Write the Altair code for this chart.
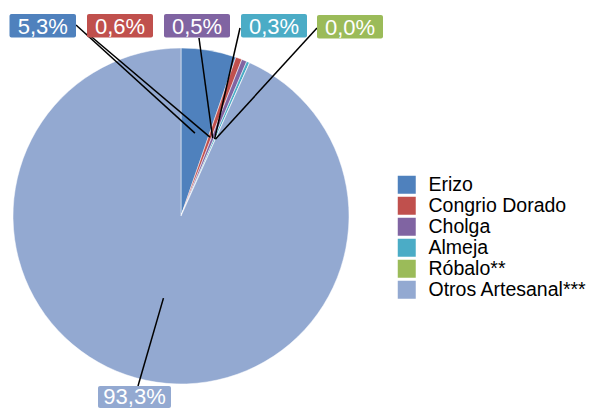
import math
import altair as alt
import pandas as pd

# ---- data ----
categories = ["Erizo", "Congrio Dorado", "Cholga", "Almeja", "Róbalo**", "Otros Artesanal***"]
values = [5.3, 0.6, 0.5, 0.3, 0.0, 93.3]
labels = ["5,3%", "0,6%", "0,5%", "0,3%", "0,0%", "93,3%"]
colors = ["#4F81BD", "#C0504D", "#8064A2", "#4BACC6", "#9BBB59", "#93A9D1"]

# ---- layout (page pixel coordinates) ----
OFF = 8
CX, CY, R = 181, 216, 168
box_left = [9.5, 87, 164, 241, 317, 98]
box_right = [76, 153, 230, 307, 383, 171]
box_top = [14, 14, 14, 14, 15, 386]
box_bottom = [37.5, 37.5, 37.5, 37.5, 38.5, 408]
anchor_x = [76, 87, 199, 240, 317, 138]
anchor_y = [25, 33, 38, 28, 28, 386]
text_dy = [1, 1, 1, 1, 1, 0]

total = sum(values)
rows = []
cum = 0.0
for i, (c, v, lab, col) in enumerate(zip(categories, values, labels, colors)):
    mid = (cum + v / 2) / total * 2 * math.pi
    cum += v
    rows.append(dict(
        category=c, value=v, label=lab, hex=col, order=i,
        ix=CX + 0.5 * R * math.sin(mid) - OFF,
        iy=CY - 0.5 * R * math.cos(mid) - OFF,
        ax=anchor_x[i] - OFF, ay=anchor_y[i] - OFF,
        bl=box_left[i] - OFF, br=box_right[i] - OFF,
        bt=box_top[i] - OFF, bb=box_bottom[i] - OFF,
        tx=(box_left[i] + box_right[i]) / 2 - OFF,
        ty=(box_top[i] + box_bottom[i]) / 2 - OFF + text_dy[i],
    ))
df = pd.DataFrame(rows)

base = alt.Chart(df)

pie = base.mark_arc(radius=R, stroke="white", strokeWidth=0.5).encode(
    theta=alt.Theta("value:Q", stack=True),
    order=alt.Order("order:Q"),
    color=alt.Color(
        "category:N",
        scale=alt.Scale(domain=categories, range=colors),
        sort=categories,
        legend=alt.Legend(
            title=None, orient="none", legendX=389, legendY=167,
            symbolType="square", symbolSize=324, symbolStrokeWidth=0,
            labelFontSize=19.5, labelFont="Liberation Sans", labelColor="black",
            labelOffset=12, rowPadding=0, padding=0, labelLimit=300,
        ),
    ),
    x=alt.value(CX - OFF),
    y=alt.value(CY - OFF),
)

lines = base.mark_rule(color="black", strokeWidth=1.5).encode(
    x=alt.X("ax:Q", scale=None, axis=None),
    y=alt.Y("ay:Q", scale=None, axis=None),
    x2="ix:Q",
    y2="iy:Q",
)

boxes = base.mark_rect(cornerRadius=2).encode(
    x=alt.X("bl:Q", scale=None, axis=None),
    x2="br:Q",
    y=alt.Y("bt:Q", scale=None, axis=None),
    y2="bb:Q",
    fill=alt.Fill("hex:N", scale=None),
)

texts = base.mark_text(
    color="white", fontSize=22, font="Liberation Sans", align="center", baseline="middle"
).encode(
    x=alt.X("tx:Q", scale=None, axis=None),
    y=alt.Y("ty:Q", scale=None, axis=None),
    text="label:N",
)

chart = alt.layer(pie, lines, boxes, texts).properties(
    width=579, height=401, autosize=alt.AutoSizeParams(type="none"), padding=0
).configure_view(stroke=None)

chart.save("out.html", embed_options={"renderer": "svg", "actions": False})
